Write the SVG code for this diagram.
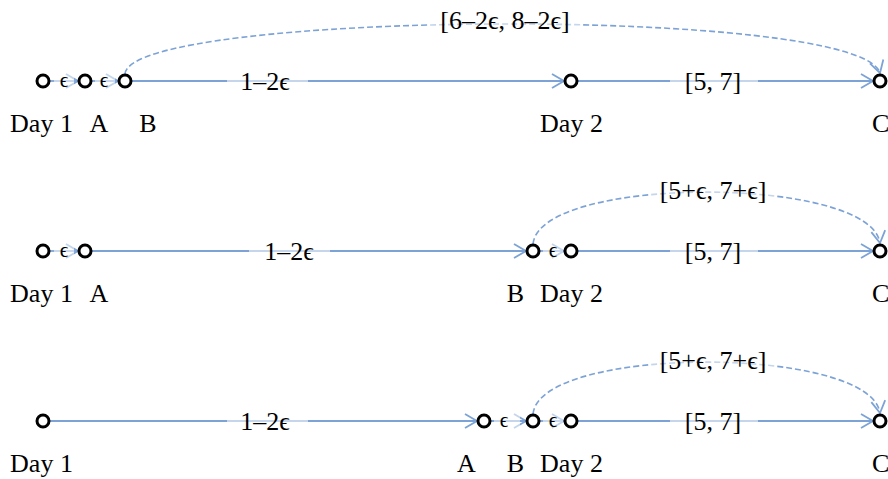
<svg xmlns="http://www.w3.org/2000/svg" width="888" height="479" viewBox="0 0 888 479">
<style>
.n{fill:#fff;stroke:#000;stroke-width:3}
.e{fill:none;stroke:#7da3d6;stroke-width:1.8;marker-end:url(#ah)}
.d{fill:none;stroke:#7da3d6;stroke-width:1.6;stroke-dasharray:6 3;marker-end:url(#ah)}
.bg{fill:#fff;fill-opacity:0.55}
text{font-family:"Liberation Serif","DejaVu Serif",serif;fill:#000}
.t{font-size:26px}
.lb{font-size:26px;text-anchor:middle}
.s{font-size:21px;text-anchor:middle}
</style>
<defs>
<marker id="ah" markerUnits="userSpaceOnUse" markerWidth="16" markerHeight="18" refX="12" refY="7" orient="auto" overflow="visible">
<path d="M0,0 L12,7 L0,14" fill="none" stroke="#7da3d6" stroke-width="1.8"/>
</marker>
</defs>
<g id="connectors">
<!-- row 1 -->
<line class="e" x1="50" y1="81" x2="78" y2="81"/>
<line class="e" x1="92" y1="81" x2="118" y2="81"/>
<line class="e" x1="132" y1="81" x2="564" y2="81"/>
<line class="e" x1="578" y1="81" x2="873" y2="81"/>
<path class="d" d="M125,74 C130,10 860,5 880,73"/>
<rect class="bg" x="54" y="71" width="20" height="20"/>
<rect class="bg" x="95" y="71" width="20" height="20"/>
<rect class="bg" x="227" y="69" width="81" height="24"/>
<rect class="bg" x="670" y="69" width="88" height="24"/>
<rect class="bg" x="430" y="8" width="152" height="26"/>
<!-- row 2 -->
<line class="e" x1="50" y1="251" x2="78" y2="251"/>
<line class="e" x1="92" y1="251" x2="526" y2="251"/>
<line class="e" x1="540" y1="251" x2="564" y2="251"/>
<line class="e" x1="578" y1="251" x2="873" y2="251"/>
<path class="d" d="M533,244 C540,175 870,175 880,243"/>
<rect class="bg" x="54" y="241" width="20" height="20"/>
<rect class="bg" x="543" y="241" width="20" height="20"/>
<rect class="bg" x="249" y="239" width="81" height="24"/>
<rect class="bg" x="670" y="239" width="88" height="24"/>
<rect class="bg" x="650" y="178" width="126" height="26"/>
<!-- row 3 -->
<line class="e" x1="50" y1="421" x2="477" y2="421"/>
<line class="e" x1="491" y1="421" x2="526" y2="421"/>
<line class="e" x1="540" y1="421" x2="564" y2="421"/>
<line class="e" x1="578" y1="421" x2="873" y2="421"/>
<path class="d" d="M533,414 C540,345 870,345 880,413"/>
<rect class="bg" x="494" y="411" width="26" height="20"/>
<rect class="bg" x="543" y="411" width="20" height="20"/>
<rect class="bg" x="227" y="409" width="81" height="24"/>
<rect class="bg" x="670" y="409" width="88" height="24"/>
<rect class="bg" x="650" y="348" width="126" height="26"/>
</g>
<g id="edge-labels">
<text class="s" x="64" y="87">ϵ</text>
<text class="s" x="104" y="87">ϵ</text>
<text class="lb" x="265" y="90">1–2ϵ</text>
<text class="lb" x="713" y="90">[5, 7]</text>
<text class="lb" x="505" y="29">[6–2ϵ, 8–2ϵ]</text>
<text class="s" x="64" y="257">ϵ</text>
<text class="s" x="553" y="257">ϵ</text>
<text class="lb" x="289" y="260">1–2ϵ</text>
<text class="lb" x="713" y="260">[5, 7]</text>
<text class="lb" x="713" y="199">[5+ϵ, 7+ϵ]</text>
<text class="s" x="504" y="427">ϵ</text>
<text class="s" x="553" y="427">ϵ</text>
<text class="lb" x="265" y="430">1–2ϵ</text>
<text class="lb" x="713" y="430">[5, 7]</text>
<text class="lb" x="713" y="369">[5+ϵ, 7+ϵ]</text>
</g>
<g id="r1-day1"><circle class="n" cx="43" cy="81" r="6"/><text class="lb" x="41.5" y="132">Day 1</text></g>
<g id="r1-a"><circle class="n" cx="85" cy="81" r="6"/><text class="lb" x="99" y="132">A</text></g>
<g id="r1-b"><circle class="n" cx="125" cy="81" r="6"/><text class="lb" x="148" y="132">B</text></g>
<g id="r1-day2"><circle class="n" cx="571" cy="81" r="6"/><text class="lb" x="571.5" y="132">Day 2</text></g>
<g id="r1-c"><circle class="n" cx="880" cy="81" r="6"/><text class="t" x="872" y="132">C</text></g>
<g id="r2-day1"><circle class="n" cx="43" cy="251" r="6"/><text class="lb" x="41.5" y="302">Day 1</text></g>
<g id="r2-a"><circle class="n" cx="85" cy="251" r="6"/><text class="lb" x="99" y="302">A</text></g>
<g id="r2-b"><circle class="n" cx="533" cy="251" r="6"/><text class="lb" x="515.5" y="302">B</text></g>
<g id="r2-day2"><circle class="n" cx="571" cy="251" r="6"/><text class="lb" x="571.5" y="302">Day 2</text></g>
<g id="r2-c"><circle class="n" cx="880" cy="251" r="6"/><text class="t" x="872" y="302">C</text></g>
<g id="r3-day1"><circle class="n" cx="43" cy="421" r="6"/><text class="lb" x="41.5" y="472">Day 1</text></g>
<g id="r3-a"><circle class="n" cx="484" cy="421" r="6"/><text class="lb" x="466.5" y="472">A</text></g>
<g id="r3-b"><circle class="n" cx="533" cy="421" r="6"/><text class="lb" x="515.5" y="472">B</text></g>
<g id="r3-day2"><circle class="n" cx="571" cy="421" r="6"/><text class="lb" x="571.5" y="472">Day 2</text></g>
<g id="r3-c"><circle class="n" cx="880" cy="421" r="6"/><text class="t" x="872" y="472">C</text></g>
</svg>
